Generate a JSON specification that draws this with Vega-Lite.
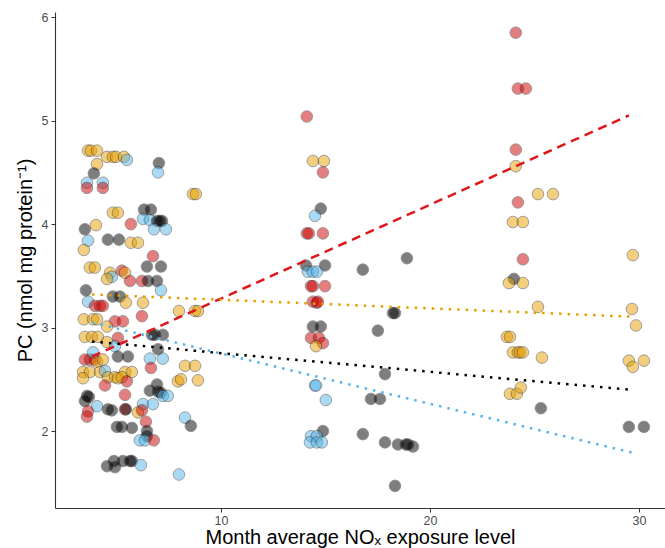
{
  "$schema": "https://vega.github.io/schema/vega-lite/v6.json",
  "width": 610,
  "height": 496,
  "autosize": {"type": "none"},
  "padding": {"left": 55, "top": 12, "right": 0, "bottom": 40},
  "background": "white",
  "config": {
    "view": {"stroke": null},
    "font": "Liberation Sans",
    "axis": {
      "grid": false,
      "domainColor": "#333333",
      "domainWidth": 1.1,
      "tickColor": "#333333",
      "tickSize": 4,
      "tickWidth": 1,
      "labelColor": "#4D4D4D",
      "labelFontSize": 12.5,
      "labelFont": "Liberation Sans",
      "titleFont": "Liberation Sans",
      "titleFontSize": 20,
      "titleFontWeight": "normal",
      "titleColor": "#000000"
    }
  },
  "datasets": {
    "pts": [
      {"nox":3.64,"pc":4.71,"group":"C"},{"nox":3.78,"pc":4.71,"group":"C"},{"nox":4.07,"pc":4.71,"group":"C"},
      {"nox":4.55,"pc":4.65,"group":"C"},{"nox":4.83,"pc":4.65,"group":"C"},{"nox":4.98,"pc":4.65,"group":"C"},{"nox":5.36,"pc":4.65,"group":"C"},
      {"nox":5.50,"pc":4.62,"group":"D"},{"nox":4.07,"pc":4.58,"group":"C"},{"nox":3.92,"pc":4.49,"group":"A"},
      {"nox":3.59,"pc":4.40,"group":"D"},{"nox":4.35,"pc":4.40,"group":"D"},{"nox":3.59,"pc":4.35,"group":"B"},{"nox":4.35,"pc":4.35,"group":"B"},
      {"nox":7.03,"pc":4.59,"group":"A"},{"nox":6.99,"pc":4.50,"group":"D"},
      {"nox":8.66,"pc":4.29,"group":"C"},{"nox":8.80,"pc":4.29,"group":"C"},
      {"nox":4.83,"pc":4.11,"group":"C"},{"nox":5.07,"pc":4.11,"group":"C"},
      {"nox":6.32,"pc":4.14,"group":"A"},{"nox":6.65,"pc":4.14,"group":"A"},
      {"nox":6.27,"pc":4.05,"group":"D"},{"nox":6.60,"pc":4.04,"group":"D"},
      {"nox":6.94,"pc":4.03,"group":"A"},{"nox":7.08,"pc":4.03,"group":"A"},{"nox":7.18,"pc":4.03,"group":"A"},
      {"nox":6.79,"pc":3.95,"group":"D"},{"nox":7.37,"pc":3.95,"group":"D"},
      {"nox":5.69,"pc":4.00,"group":"B"},{"nox":3.49,"pc":3.95,"group":"A"},{"nox":4.02,"pc":3.99,"group":"C"},
      {"nox":3.64,"pc":3.84,"group":"D"},{"nox":3.44,"pc":3.75,"group":"C"},
      {"nox":4.59,"pc":3.85,"group":"A"},{"nox":5.12,"pc":3.85,"group":"A"},
      {"nox":5.69,"pc":3.82,"group":"C"},{"nox":6.03,"pc":3.82,"group":"C"},
      {"nox":6.75,"pc":3.69,"group":"B"},{"nox":6.46,"pc":3.59,"group":"A"},{"nox":7.13,"pc":3.59,"group":"A"},
      {"nox":3.73,"pc":3.58,"group":"C"},{"nox":3.97,"pc":3.58,"group":"C"},
      {"nox":4.69,"pc":3.53,"group":"C"},{"nox":4.78,"pc":3.49,"group":"D"},{"nox":4.55,"pc":3.47,"group":"C"},
      {"nox":5.26,"pc":3.55,"group":"B"},{"nox":5.41,"pc":3.53,"group":"C"},{"nox":5.65,"pc":3.45,"group":"B"},
      {"nox":6.22,"pc":3.45,"group":"B"},{"nox":6.51,"pc":3.45,"group":"A"},{"nox":6.94,"pc":3.45,"group":"A"},
      {"nox":7.13,"pc":3.36,"group":"D"},{"nox":3.54,"pc":3.36,"group":"A"},
      {"nox":4.83,"pc":3.30,"group":"A"},{"nox":5.17,"pc":3.30,"group":"A"},{"nox":5.45,"pc":3.24,"group":"C"},
      {"nox":3.64,"pc":3.25,"group":"D"},
      {"nox":3.97,"pc":3.21,"group":"B"},{"nox":4.21,"pc":3.21,"group":"B"},{"nox":4.35,"pc":3.21,"group":"B"},
      {"nox":6.27,"pc":3.24,"group":"C"},
      {"nox":7.99,"pc":3.16,"group":"C"},{"nox":8.76,"pc":3.16,"group":"C"},{"nox":8.90,"pc":3.16,"group":"C"},
      {"nox":6.22,"pc":3.11,"group":"B"},
      {"nox":3.44,"pc":3.08,"group":"C"},{"nox":3.88,"pc":3.08,"group":"C"},{"nox":4.07,"pc":3.08,"group":"C"},
      {"nox":4.93,"pc":3.06,"group":"B"},{"nox":5.31,"pc":3.06,"group":"B"},{"nox":4.55,"pc":3.01,"group":"C"},
      {"nox":3.49,"pc":2.91,"group":"C"},{"nox":3.83,"pc":2.91,"group":"C"},{"nox":4.11,"pc":2.91,"group":"C"},
      {"nox":4.55,"pc":2.86,"group":"C"},{"nox":5.07,"pc":2.90,"group":"B"},{"nox":4.93,"pc":2.82,"group":"D"},
      {"nox":6.70,"pc":2.93,"group":"A"},{"nox":6.84,"pc":2.93,"group":"A"},{"nox":7.22,"pc":2.93,"group":"A"},
      {"nox":6.99,"pc":2.79,"group":"A"},{"nox":5.07,"pc":2.72,"group":"A"},{"nox":5.55,"pc":2.72,"group":"A"},
      {"nox":3.49,"pc":2.69,"group":"B"},{"nox":3.73,"pc":2.69,"group":"B"},{"nox":3.97,"pc":2.69,"group":"B"},
      {"nox":4.07,"pc":2.67,"group":"C"},{"nox":4.35,"pc":2.69,"group":"C"},{"nox":3.88,"pc":2.76,"group":"D"},
      {"nox":6.60,"pc":2.70,"group":"D"},{"nox":7.22,"pc":2.70,"group":"D"},{"nox":6.65,"pc":2.61,"group":"B"},
      {"nox":8.28,"pc":2.63,"group":"C"},{"nox":8.76,"pc":2.63,"group":"C"},
      {"nox":3.40,"pc":2.57,"group":"C"},{"nox":3.73,"pc":2.57,"group":"C"},{"nox":4.21,"pc":2.57,"group":"C"},
      {"nox":4.45,"pc":2.58,"group":"D"},{"nox":5.41,"pc":2.57,"group":"C"},{"nox":5.74,"pc":2.57,"group":"C"},
      {"nox":3.40,"pc":2.51,"group":"C"},{"nox":4.59,"pc":2.52,"group":"C"},{"nox":4.93,"pc":2.52,"group":"C"},
      {"nox":5.07,"pc":2.51,"group":"C"},{"nox":5.26,"pc":2.52,"group":"C"},{"nox":5.50,"pc":2.48,"group":"B"},
      {"nox":7.94,"pc":2.48,"group":"C"},{"nox":8.09,"pc":2.50,"group":"C"},{"nox":8.90,"pc":2.49,"group":"C"},
      {"nox":4.45,"pc":2.44,"group":"B"},{"nox":5.41,"pc":2.35,"group":"B"},
      {"nox":6.60,"pc":2.39,"group":"A"},{"nox":6.94,"pc":2.45,"group":"A"},{"nox":6.99,"pc":2.38,"group":"A"},{"nox":7.13,"pc":2.37,"group":"A"},
      {"nox":6.27,"pc":2.26,"group":"D"},{"nox":6.75,"pc":2.26,"group":"D"},{"nox":7.22,"pc":2.34,"group":"D"},{"nox":7.46,"pc":2.34,"group":"D"},
      {"nox":3.59,"pc":2.34,"group":"A"},{"nox":3.68,"pc":2.33,"group":"A"},{"nox":3.49,"pc":2.29,"group":"A"},
      {"nox":4.07,"pc":2.24,"group":"D"},{"nox":4.59,"pc":2.21,"group":"A"},{"nox":4.78,"pc":2.20,"group":"A"},
      {"nox":3.64,"pc":2.19,"group":"B"},{"nox":3.59,"pc":2.14,"group":"B"},
      {"nox":5.41,"pc":2.21,"group":"B"},{"nox":5.45,"pc":2.21,"group":"A"},
      {"nox":6.03,"pc":2.18,"group":"C"},{"nox":6.22,"pc":2.20,"group":"B"},
      {"nox":8.28,"pc":2.13,"group":"D"},{"nox":8.56,"pc":2.05,"group":"A"},{"nox":6.41,"pc":2.09,"group":"B"},
      {"nox":5.02,"pc":2.04,"group":"A"},{"nox":5.26,"pc":2.04,"group":"A"},{"nox":5.74,"pc":2.03,"group":"A"},
      {"nox":6.46,"pc":2.00,"group":"A"},{"nox":6.46,"pc":1.95,"group":"A"},
      {"nox":6.12,"pc":1.91,"group":"D"},{"nox":6.36,"pc":1.91,"group":"D"},{"nox":6.79,"pc":1.91,"group":"B"},
      {"nox":4.55,"pc":1.66,"group":"A"},{"nox":4.93,"pc":1.65,"group":"A"},{"nox":4.88,"pc":1.71,"group":"A"},
      {"nox":5.31,"pc":1.71,"group":"A"},{"nox":5.65,"pc":1.71,"group":"A"},{"nox":5.74,"pc":1.71,"group":"A"},
      {"nox":6.17,"pc":1.67,"group":"D"},{"nox":7.99,"pc":1.58,"group":"D"},

      {"nox":14.11,"pc":5.04,"group":"B"},{"nox":14.40,"pc":4.61,"group":"C"},{"nox":14.93,"pc":4.61,"group":"C"},
      {"nox":14.88,"pc":4.50,"group":"B"},{"nox":14.78,"pc":4.15,"group":"A"},{"nox":14.50,"pc":4.08,"group":"D"},
      {"nox":14.11,"pc":3.91,"group":"B"},{"nox":14.21,"pc":3.91,"group":"B"},{"nox":14.88,"pc":3.91,"group":"B"},
      {"nox":14.07,"pc":3.60,"group":"A"},{"nox":14.98,"pc":3.60,"group":"A"},
      {"nox":14.16,"pc":3.54,"group":"D"},{"nox":14.40,"pc":3.54,"group":"D"},{"nox":14.59,"pc":3.54,"group":"D"},
      {"nox":16.79,"pc":3.56,"group":"A"},{"nox":18.90,"pc":3.67,"group":"A"},
      {"nox":14.31,"pc":3.40,"group":"B"},{"nox":14.40,"pc":3.40,"group":"B"},{"nox":14.98,"pc":3.40,"group":"B"},
      {"nox":14.40,"pc":3.25,"group":"B"},{"nox":14.59,"pc":3.24,"group":"B"},{"nox":14.64,"pc":3.25,"group":"B"},
      {"nox":18.23,"pc":3.14,"group":"A"},{"nox":18.33,"pc":3.14,"group":"A"},
      {"nox":14.40,"pc":3.01,"group":"A"},{"nox":14.78,"pc":3.01,"group":"A"},{"nox":17.51,"pc":2.97,"group":"A"},
      {"nox":14.31,"pc":2.90,"group":"B"},{"nox":14.69,"pc":2.90,"group":"B"},{"nox":14.88,"pc":2.85,"group":"B"},
      {"nox":14.55,"pc":2.82,"group":"C"},{"nox":17.85,"pc":2.55,"group":"A"},
      {"nox":14.50,"pc":2.44,"group":"D"},{"nox":14.55,"pc":2.44,"group":"D"},{"nox":15.02,"pc":2.30,"group":"D"},
      {"nox":17.18,"pc":2.31,"group":"A"},{"nox":17.61,"pc":2.31,"group":"A"},
      {"nox":16.79,"pc":1.97,"group":"A"},{"nox":14.88,"pc":2.00,"group":"A"},
      {"nox":14.31,"pc":1.95,"group":"D"},{"nox":14.59,"pc":1.95,"group":"D"},{"nox":14.26,"pc":1.89,"group":"D"},
      {"nox":14.59,"pc":1.89,"group":"D"},{"nox":14.83,"pc":1.89,"group":"D"},
      {"nox":17.85,"pc":1.89,"group":"A"},{"nox":18.47,"pc":1.87,"group":"A"},{"nox":18.85,"pc":1.87,"group":"A"},
      {"nox":18.95,"pc":1.87,"group":"A"},{"nox":19.19,"pc":1.85,"group":"A"},{"nox":18.33,"pc":1.47,"group":"A"},

      {"nox":24.11,"pc":5.85,"group":"B"},{"nox":24.21,"pc":5.31,"group":"B"},{"nox":24.59,"pc":5.31,"group":"B"},
      {"nox":24.11,"pc":4.72,"group":"B"},{"nox":24.11,"pc":4.56,"group":"C"},
      {"nox":25.17,"pc":4.29,"group":"C"},{"nox":25.89,"pc":4.29,"group":"C"},{"nox":24.21,"pc":4.21,"group":"B"},
      {"nox":23.97,"pc":4.02,"group":"C"},{"nox":24.45,"pc":4.02,"group":"C"},{"nox":29.71,"pc":3.70,"group":"C"},
      {"nox":24.45,"pc":3.66,"group":"B"},{"nox":24.02,"pc":3.47,"group":"A"},
      {"nox":23.78,"pc":3.43,"group":"C"},{"nox":24.45,"pc":3.43,"group":"C"},{"nox":25.17,"pc":3.20,"group":"C"},
      {"nox":29.67,"pc":3.18,"group":"C"},{"nox":29.86,"pc":3.02,"group":"C"},
      {"nox":23.68,"pc":2.91,"group":"C"},{"nox":23.83,"pc":2.91,"group":"C"},
      {"nox":23.97,"pc":2.76,"group":"C"},{"nox":24.21,"pc":2.76,"group":"C"},{"nox":24.31,"pc":2.76,"group":"C"},{"nox":24.45,"pc":2.76,"group":"C"},
      {"nox":25.36,"pc":2.71,"group":"C"},{"nox":29.52,"pc":2.68,"group":"C"},{"nox":30.24,"pc":2.68,"group":"C"},{"nox":29.71,"pc":2.62,"group":"C"},
      {"nox":23.83,"pc":2.36,"group":"C"},{"nox":24.16,"pc":2.36,"group":"C"},{"nox":24.35,"pc":2.42,"group":"C"},
      {"nox":25.31,"pc":2.22,"group":"A"},{"nox":29.52,"pc":2.04,"group":"A"},{"nox":30.24,"pc":2.04,"group":"A"}
    ],
    "fits": [
      {"nox":3.83,"pc":2.72,"group":"B"},{"nox":29.52,"pc":5.05,"group":"B"},
      {"nox":3.83,"pc":3.32,"group":"C"},{"nox":29.57,"pc":3.106,"group":"C"},
      {"nox":3.83,"pc":2.865,"group":"A"},{"nox":29.52,"pc":2.40,"group":"A"},
      {"nox":3.83,"pc":3.05,"group":"D"},{"nox":29.71,"pc":1.79,"group":"D"}
    ]
  },
  "layer": [
    {
      "data": {"name": "pts"},
      "mark": {"type": "circle", "size": 135, "opacity": 0.5, "stroke": "#1a1a1a", "strokeWidth": 0.8},
      "encoding": {
        "x": {"field": "nox", "type": "quantitative", "scale": {"domain": [2.06, 31.25], "nice": false, "zero": false},
              "axis": {"values": [10, 20, 30], "format": "d", "title": "Month average NOₓ exposure level", "titlePadding": 1, "labelPadding": 2}},
        "y": {"field": "pc", "type": "quantitative", "scale": {"domain": [1.256, 6.05], "nice": false, "zero": false},
              "axis": {"values": [2, 3, 4, 5, 6], "format": "d", "title": "PC (nmol mg protein⁻¹)", "titlePadding": 6, "labelPadding": 3}},
        "color": {"field": "group", "type": "nominal", "legend": null,
                  "scale": {"domain": ["A", "B", "C", "D"], "range": ["#000000", "#CD0000", "#E69F00", "#56B4E9"]}}
      }
    },
    {
      "data": {"name": "fits"},
      "transform": [{"filter": "datum.group === 'B'"}],
      "mark": {"type": "line", "strokeWidth": 2.5, "strokeDash": [9, 6], "color": "#E0161A"},
      "encoding": {
        "x": {"field": "nox", "type": "quantitative"},
        "y": {"field": "pc", "type": "quantitative"}
      }
    },
    {
      "data": {"name": "fits"},
      "transform": [{"filter": "datum.group !== 'B'"}],
      "mark": {"type": "line", "strokeWidth": 2.5, "strokeDash": [2.5, 6]},
      "encoding": {
        "x": {"field": "nox", "type": "quantitative"},
        "y": {"field": "pc", "type": "quantitative"},
        "detail": {"field": "group", "type": "nominal"},
        "color": {"field": "group", "type": "nominal", "legend": null,
                  "scale": {"domain": ["A", "B", "C", "D"], "range": ["#000000", "#CD0000", "#F0A000", "#56B4E9"]}}
      }
    }
  ]
}
